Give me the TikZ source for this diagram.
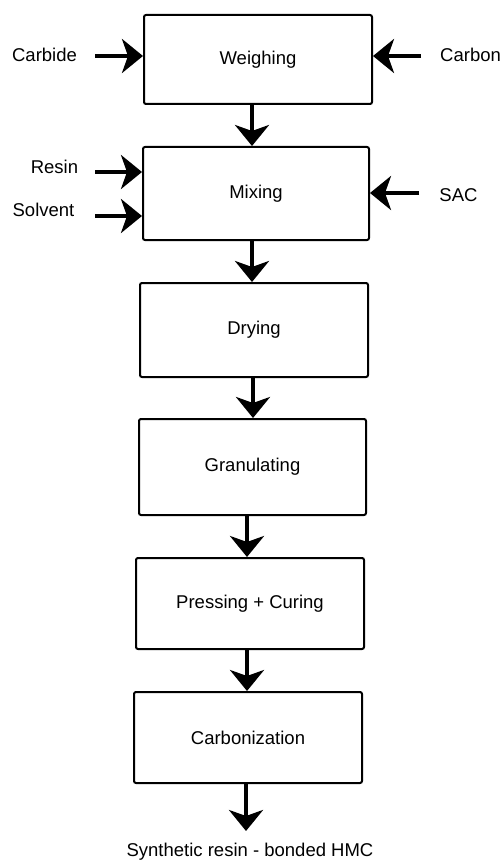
\documentclass[tikz,border=0pt]{standalone}
\usepackage{fontspec}
\setmainfont{Liberation Sans}
\usetikzlibrary{arrows.meta}
\begin{document}
\begin{tikzpicture}[x=1pt,y=-1pt,
  every node/.style={font=\fontsize{18.5}{22}\selectfont, inner sep=0pt},
  box/.style={draw, line width=2pt, rounded corners=2pt, align=center},
  arr/.style={line width=4pt, -{Stealth[length=21pt, width=34pt, inset=6pt]}},
  lbl/.style={anchor=base}]
\useasboundingbox (0,0) rectangle (502,861);
% process boxes
\node[box, minimum width=228pt, minimum height=89pt] (wei) at (258,59.5) {Weighing};
\node[box, minimum width=226pt, minimum height=93pt] (mix) at (256,193.5) {Mixing};
\node[box, minimum width=228pt, minimum height=94pt] (dry) at (254,330) {Drying};
\node[box, minimum width=227pt, minimum height=96pt] (gra) at (252.5,467) {Granulating};
\node[box, minimum width=228pt, minimum height=91pt] (pre) at (250,603.5) {Pressing + Curing};
\node[box, minimum width=228pt, minimum height=91pt] (car) at (248,737.5) {Carbonization};
% input labels
\node[lbl] (lcarbide) at (44.5,61.5) {Carbide};
\node[lbl, anchor=base west] (lcarbon) at (440,61.5) {Carbon};
\node[lbl] (lresin) at (54.5,173.5) {Resin};
\node[lbl] (lsolvent) at (43.5,216.5) {Solvent};
\node[lbl] (lsac) at (458.5,201.5) {SAC};
\node[lbl] (lout) at (250,856) {Synthetic resin - bonded HMC};
% connector coordinates
\coordinate (sCarbide) at (95,56);
\coordinate (sCarbon) at (421,56);
\coordinate (sResin) at (95,172);
\coordinate (sSolvent) at (95,216);
\coordinate (sSAC) at (419,193);
\coordinate (x1) at (252,0);
\coordinate (x2) at (252,0);
\coordinate (x3) at (253,0);
\coordinate (x4) at (247,0);
\coordinate (x5) at (247,0);
\coordinate (x6) at (246,0);
\coordinate (eOut) at (246,831);
% side inputs
\draw[arr] (sCarbide) -- (wei.west |- sCarbide);
\draw[arr] (sCarbon) -- (wei.east |- sCarbon);
\draw[arr] (sResin) -- (mix.west |- sResin);
\draw[arr] (sSolvent) -- (mix.west |- sSolvent);
\draw[arr] (sSAC) -- (mix.east |- sSAC);
% main flow
\draw[arr] (wei.south -| x1) -- (mix.north -| x1);
\draw[arr] (mix.south -| x2) -- (dry.north -| x2);
\draw[arr] (dry.south -| x3) -- (gra.north -| x3);
\draw[arr] (gra.south -| x4) -- (pre.north -| x4);
\draw[arr] (pre.south -| x5) -- (car.north -| x5);
\draw[arr] (car.south -| x6) -- (eOut);
\end{tikzpicture}
\end{document}
